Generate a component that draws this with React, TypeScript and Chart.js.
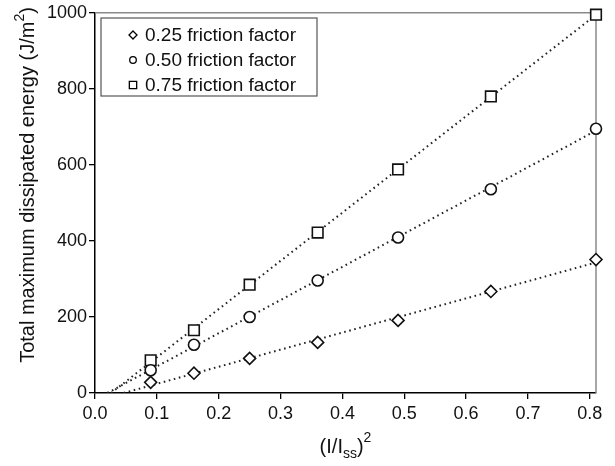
import React, { useEffect, useRef } from "react";
import { Chart, registerables } from "chart.js";

Chart.register(...registerables);

const xValues = [0.09, 0.16, 0.25, 0.36, 0.49, 0.64, 0.81];
const friction025 = [28, 52, 91, 133, 191, 267, 351];
const friction050 = [60, 127, 200, 296, 409, 536, 695];
const friction075 = [86, 165, 285, 422, 588, 780, 995];
const seriesLabels = ["0.25 friction factor", "0.50 friction factor", "0.75 friction factor"];
const seriesStyles = ["rectRot", "circle", "rect"];
const xTicks = [0, 0.1, 0.2, 0.3, 0.4, 0.5, 0.6, 0.7, 0.8];
const yTicks = [0, 200, 400, 600, 800, 1000];

const FONT = "'Liberation Sans', Arial, sans-serif";

function fit(xs: number[], ys: number[]) {
  const n = xs.length;
  const mx = xs.reduce((a, b) => a + b, 0) / n;
  const my = ys.reduce((a, b) => a + b, 0) / n;
  let sxy = 0, sxx = 0;
  for (let i = 0; i < n; i++) {
    sxy += (xs[i] - mx) * (ys[i] - my);
    sxx += (xs[i] - mx) ** 2;
  }
  const m = sxy / sxx;
  const b = my - m * mx;
  const x0 = Math.max(0, -b / m);
  const x1 = xs[n - 1];
  return [{ x: x0, y: m * x0 + b }, { x: x1, y: m * x1 + b }];
}

function drawMarker(ctx: CanvasRenderingContext2D, style: string, x: number, y: number, r: number) {
  ctx.beginPath();
  if (style === "circle") {
    ctx.arc(x, y, r, 0, Math.PI * 2);
  } else if (style === "rect") {
    const s = r * Math.SQRT1_2;
    ctx.rect(x - s, y - s, 2 * s, 2 * s);
  } else {
    ctx.moveTo(x, y - r);
    ctx.lineTo(x + r, y);
    ctx.lineTo(x, y + r);
    ctx.lineTo(x - r, y);
    ctx.closePath();
  }
  ctx.fillStyle = "#fff";
  ctx.fill();
  ctx.stroke();
}

const decorPlugin = {
  id: "decor",
  beforeDatasetsDraw(chart: any) {
    const ctx = chart.ctx as CanvasRenderingContext2D;
    const a = chart.chartArea;
    ctx.save();
    ctx.strokeStyle = "#8a8a8a";
    ctx.lineWidth = 1.5;
    ctx.beginPath();
    ctx.moveTo(a.left, a.top);
    ctx.lineTo(a.right, a.top);
    ctx.lineTo(a.right, a.bottom);
    ctx.stroke();
    ctx.restore();
  },
  afterDraw(chart: any) {
    const ctx = chart.ctx as CanvasRenderingContext2D;
    const a = chart.chartArea;
    ctx.save();

    // legend
    const lx = 101, ly = 18, lw = 216, lh = 78;
    ctx.fillStyle = "#fff";
    ctx.fillRect(lx, ly, lw, lh);
    ctx.strokeStyle = "#555";
    ctx.lineWidth = 1.2;
    ctx.strokeRect(lx, ly, lw, lh);
    ctx.font = `19px ${FONT}`;
    ctx.textBaseline = "middle";
    ctx.textAlign = "left";
    const rows = [35, 60, 85];
    for (let i = 0; i < seriesLabels.length; i++) {
      ctx.strokeStyle = "#000";
      ctx.lineWidth = 1.3;
      drawMarker(ctx, seriesStyles[i], 133, rows[i], seriesStyles[i] === "circle" ? 3.3 : seriesStyles[i] === "rect" ? 5.2 : 4);
      ctx.fillStyle = "#111";
      ctx.fillText(seriesLabels[i], 145, rows[i] + 1);
    }

    // y title
    ctx.save();
    ctx.translate(28, 185);
    ctx.rotate(-Math.PI / 2);
    ctx.fillStyle = "#111";
    ctx.textBaseline = "middle";
    const big = `20px ${FONT}`;
    const small = `14px ${FONT}`;
    const p1 = "Total maximum dissipated energy (J/m";
    const p2 = "2";
    const p3 = ")";
    ctx.font = big;
    const w1 = ctx.measureText(p1).width;
    const w3 = ctx.measureText(p3).width;
    ctx.font = small;
    const w2 = ctx.measureText(p2).width;
    const sx = -(w1 + w2 + w3) / 2;
    ctx.font = big;
    ctx.fillText(p1, sx, 0);
    ctx.font = small;
    ctx.fillText(p2, sx + w1, -8);
    ctx.font = big;
    ctx.fillText(p3, sx + w1 + w2, 0);
    ctx.restore();

    // x title
    const q1 = "(I/I";
    const q2 = "ss";
    const q3 = ")";
    const q4 = "2";
    ctx.font = big;
    const v1 = ctx.measureText(q1).width;
    const v3 = ctx.measureText(q3).width;
    ctx.font = small;
    const v2 = ctx.measureText(q2).width;
    const v4 = ctx.measureText(q4).width;
    const cx = (a.left + a.right) / 2;
    const tx = cx - (v1 + v2 + v3 + v4) / 2;
    const ty = 447;
    ctx.fillStyle = "#111";
    ctx.textBaseline = "middle";
    ctx.font = big;
    ctx.fillText(q1, tx, ty);
    ctx.font = small;
    ctx.fillText(q2, tx + v1, ty + 7);
    ctx.font = big;
    ctx.fillText(q3, tx + v1 + v2, ty);
    ctx.font = small;
    ctx.fillText(q4, tx + v1 + v2 + v3, ty - 9);
    ctx.restore();
  },
};

export default function App() {
  const ref = useRef<HTMLCanvasElement | null>(null);
  useEffect(() => {
    document.body.style.margin = "0";
    const seriesData = [friction025, friction050, friction075];
    const datasets: any[] = [];
    seriesData.forEach((ys, i) => {
      datasets.push({
        type: "line",
        label: "fit" + i,
        data: fit(xValues, ys),
        borderColor: "#222",
        borderWidth: 2,
        borderDash: [1.6, 3.6],
        pointRadius: 0,
        fill: false,
        order: 2,
      });
    });
    seriesData.forEach((ys, i) => {
      datasets.push({
        type: "scatter",
        label: seriesLabels[i],
        data: xValues.map((x, j) => ({ x, y: ys[j] })),
        pointStyle: seriesStyles[i],
        pointRadius: seriesStyles[i] === "circle" ? 5.5 : seriesStyles[i] === "rect" ? 7.5 : 6,
        pointBackgroundColor: "#fff",
        pointBorderColor: "#111",
        pointBorderWidth: 1.6,
        showLine: false,
        clip: false,
        order: 1,
      });
    });
    const chart = new Chart(ref.current as HTMLCanvasElement, {
      type: "scatter",
      data: { datasets },
      options: {
        animation: false,
        responsive: false,
        layout: { padding: { top: 11, right: 19, left: 0, bottom: 0 } },
        plugins: { legend: { display: false }, tooltip: { enabled: false } },
        scales: {
          x: {
            type: "linear",
            min: 0,
            max: 0.81,
            afterFit: (s: any) => { s.height = 73; },
            afterBuildTicks: (s: any) => { s.ticks = xTicks.map((v) => ({ value: v })); },
            grid: { drawOnChartArea: false, drawTicks: true, tickLength: 6, color: "#000", lineWidth: 1.3 },
            border: { display: true, color: "#000", width: 1.5 },
            ticks: {
              padding: 4,
              color: "#111",
              font: { family: FONT, size: 18 },
              maxRotation: 0,
              callback: (v: any) => Number(v).toFixed(1),
            },
          },
          y: {
            type: "linear",
            min: 0,
            max: 1000,
            afterFit: (s: any) => { s.width = 95; },
            afterBuildTicks: (s: any) => { s.ticks = yTicks.map((v) => ({ value: v })); },
            grid: { drawOnChartArea: false, drawTicks: true, tickLength: 6, color: "#000", lineWidth: 1.3 },
            border: { display: true, color: "#000", width: 1.5 },
            ticks: {
              padding: 2,
              color: "#111",
              font: { family: FONT, size: 18 },
              callback: (v: any) => String(v),
            },
          },
        },
      },
      plugins: [decorPlugin],
    } as any);
    return () => chart.destroy();
  }, []);
  return (
    <div style={{ width: 615, height: 466, background: "#fff" }}>
      <canvas ref={ref} width={615} height={466} style={{ display: "block" }} />
    </div>
  );
}
